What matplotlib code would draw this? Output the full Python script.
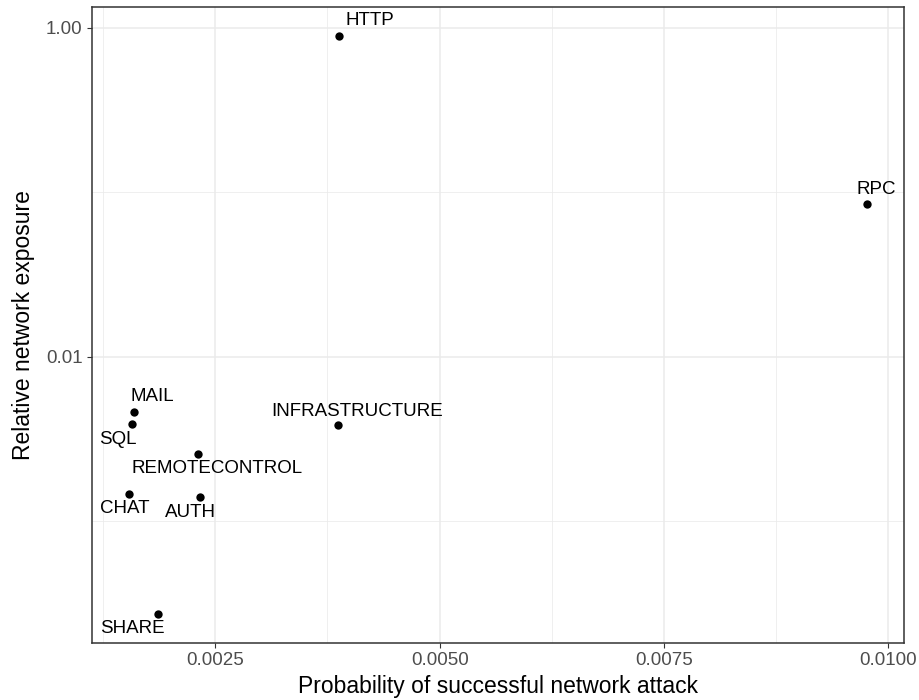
import matplotlib
matplotlib.use("Agg")
import matplotlib.pyplot as plt
import numpy as np
from matplotlib.ticker import FixedLocator, FixedFormatter

plt.rcParams['font.family'] = ['Liberation Sans', 'DejaVu Sans']

services = ["HTTP", "RPC", "MAIL", "SQL", "INFRASTRUCTURE", "REMOTECONTROL", "CHAT", "AUTH", "SHARE"]
attack_prob = [0.003874, 0.009764, 0.001589, 0.001575, 0.003871, 0.002310, 0.001534, 0.002325, 0.001861]
exposure = [0.898, 0.0854, 0.00464, 0.00390, 0.00385, 0.002576, 0.001466, 0.001406, 0.000274]

x_ticks = [0.0025, 0.0050, 0.0075, 0.0100]
x_tick_labels = ["0.0025", "0.0050", "0.0075", "0.0100"]
y_ticks = [1.0, 0.01]
y_tick_labels = ["1.00", "0.01"]

# label offsets in pixels (style)
offsets = {
    "HTTP": (31, 15), "RPC": (9, 14), "MAIL": (19, 15), "SQL": (-14, -15),
    "INFRASTRUCTURE": (19, 14), "REMOTECONTROL": (19, -15), "CHAT": (-4, -15),
    "AUTH": (-9, -16), "SHARE": (-26, -15),
}

fig = plt.figure(figsize=(9.19, 7.0), dpi=100)
ax = fig.add_axes([0.0998, 0.0819, 0.9837 - 0.0998, 0.9904 - 0.0819])

ax.set_yscale('log')
ax.scatter(attack_prob, exposure, s=36, color='black', zorder=3, linewidths=0)

for name, xv, yv in zip(services, attack_prob, exposure):
    dx, dy = offsets[name]
    ax.annotate(name, (xv, yv), xytext=(dx, dy), textcoords='offset pixels',
                ha='center', va='center', fontsize=13.5, color='black', zorder=4)

# limits with ggplot-style 5% expansion
xmin, xmax = min(attack_prob), max(attack_prob)
xr = xmax - xmin
ax.set_xlim(xmin - 0.05 * xr, xmax + 0.05 * xr)
ly = np.log10(exposure)
lr = ly.max() - ly.min()
ax.set_ylim(10 ** (ly.min() - 0.05 * lr), 10 ** (ly.max() + 0.05 * lr))

ax.xaxis.set_major_locator(FixedLocator(x_ticks))
ax.xaxis.set_major_formatter(FixedFormatter(x_tick_labels))
ax.xaxis.set_minor_locator(FixedLocator([0.00125, 0.00375, 0.00625, 0.00875]))
ax.yaxis.set_major_locator(FixedLocator(y_ticks))
ax.yaxis.set_major_formatter(FixedFormatter(y_tick_labels))
ax.yaxis.set_minor_locator(FixedLocator([0.1, 0.001]))
ax.yaxis.set_minor_formatter(FixedFormatter(["", ""]))

ax.grid(which='major', color='#EBEBEB', linewidth=1.1, zorder=0)
ax.grid(which='minor', color='#EBEBEB', linewidth=0.55, zorder=0)
ax.set_axisbelow(True)

ax.tick_params(which='major', length=3.7, width=0.8, color='#333333',
               labelcolor='#4D4D4D', labelsize=13.5, pad=3)
ax.tick_params(which='minor', length=0)
for sp in ax.spines.values():
    sp.set_color('#333333')
    sp.set_linewidth(1.1)

ax.set_xlabel("Probability of successful network attack", fontsize=16.5, labelpad=4)
ax.set_ylabel("Relative network exposure", fontsize=16.5, labelpad=8)

fig.savefig("out.png", dpi=100)
